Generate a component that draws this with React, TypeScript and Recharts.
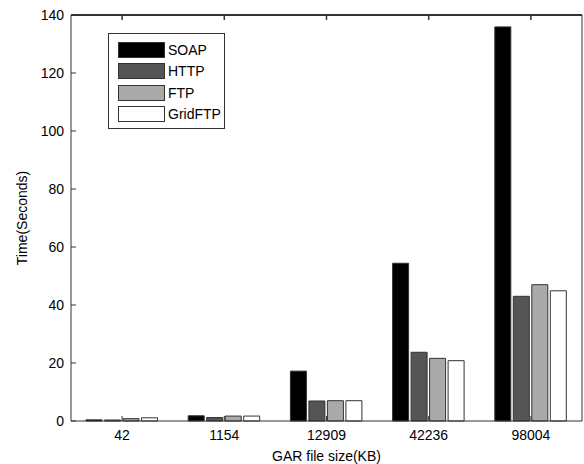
import React from 'react';
import { BarChart, Bar, XAxis, YAxis } from 'recharts';

const categories = ['42', '1154', '12909', '42236', '98004'];
const soap = [0.4, 1.8, 17.2, 54.4, 135.9];
const http = [0.35, 1.2, 6.9, 23.7, 43.0];
const ftp = [0.8, 1.7, 7.0, 21.6, 47.0];
const gridftp = [1.1, 1.7, 7.0, 20.8, 44.9];
const yTicks = [0, 20, 40, 60, 80, 100, 120, 140];
const yMax = 140;

const seriesNames = ['SOAP', 'HTTP', 'FTP', 'GridFTP'];
const seriesKeys = ['soap', 'http', 'ftp', 'gridftp'];
const seriesColors = ['#000000', '#555555', '#aaaaaa', '#ffffff'];

const data = categories.map((c, i) => ({
  name: c,
  soap: soap[i],
  http: http[i],
  ftp: ftp[i],
  gridftp: gridftp[i],
}));

const FONT = 'Arial, "Liberation Sans", sans-serif';
const AX = '#333333';

const LeftTick = (props: any) => {
  const { x, y, payload } = props;
  return (
    <g>
      <line x1={x} y1={y} x2={x + 5} y2={y} stroke={AX} strokeWidth={1} />
      <text x={x - 7} y={y + 5} textAnchor="end" fontSize={14} fontFamily={FONT} fill="#000">
        {payload.value}
      </text>
    </g>
  );
};

const RightTick = (props: any) => {
  const { x, y } = props;
  return <line x1={x} y1={y} x2={x - 5} y2={y} stroke={AX} strokeWidth={1} />;
};

const BottomTick = (props: any) => {
  const { x, y, payload } = props;
  return (
    <g>
      <line x1={x} y1={y} x2={x} y2={y - 5} stroke={AX} strokeWidth={1} />
      <text x={x} y={y + 19} textAnchor="middle" fontSize={14} fontFamily={FONT} fill="#000">
        {payload.value}
      </text>
    </g>
  );
};

const TopTick = (props: any) => {
  const { x, y } = props;
  return <line x1={x} y1={y} x2={x} y2={y + 5} stroke={AX} strokeWidth={1.5} />;
};

const LegendBox = () => (
  <div
    style={{
      position: 'absolute',
      left: 108,
      top: 33,
      border: '1px solid #333',
      background: '#fff',
      width: 117,
      height: 96,
      boxSizing: 'border-box',
      padding: '5px 0 0 9px',
      fontFamily: FONT,
      fontSize: 14,
    }}
  >
    {seriesNames.map((n, i) => (
      <div key={n} style={{ display: 'flex', alignItems: 'center', height: 21.5 }}>
        <div
          style={{
            width: 47,
            height: 16,
            background: seriesColors[i],
            border: '1px solid #333',
            boxSizing: 'border-box',
            marginRight: 3,
          }}
        />
        <span style={{ lineHeight: '16px' }}>{n}</span>
      </div>
    ))}
  </div>
);

export default function App() {
  return (
    <div style={{ position: 'absolute', left: 0, top: 0, width: 584, height: 464, background: '#fff' }}>
      <BarChart
        width={584}
        height={464}
        data={data}
        margin={{ top: 14, right: 0, bottom: 0, left: 0 }}
        barGap={2.5}
        barSize={16}
      >
        <XAxis
          xAxisId="b"
          dataKey="name"
          orientation="bottom"
          height={43}
          tickSize={0}
          tickMargin={0}
          axisLine={{ stroke: AX }}
          tickLine={false}
          tick={<BottomTick />}
          interval={0}
          label={(p: any) => {
            const vb = p.viewBox;
            return (
              <text
                x={vb.x + vb.width / 2}
                y={vb.y + 40}
                textAnchor="middle"
                fontSize={14}
                fontFamily={FONT}
                fill="#000"
              >
                GAR file size(KB)
              </text>
            );
          }}
        />
        <XAxis
          xAxisId="t"
          dataKey="name"
          orientation="top"
          height={1}
          tickSize={0}
          tickMargin={0}
          axisLine={{ stroke: AX, strokeWidth: 2 }}
          tickLine={false}
          tick={<TopTick />}
          interval={0}
        />
        <YAxis
          yAxisId="l"
          orientation="left"
          width={71}
          domain={[0, yMax]}
          ticks={yTicks}
          tickSize={0}
          tickMargin={0}
          axisLine={{ stroke: AX }}
          tickLine={false}
          tick={<LeftTick />}
          interval={0}
          label={(p: any) => {
            const vb = p.viewBox;
            const cx = vb.x + 22;
            const cy = vb.y + vb.height / 2;
            return (
              <text
                x={cx}
                y={cy}
                transform={`rotate(-90 ${cx} ${cy})`}
                textAnchor="middle"
                dominantBaseline="central"
                fontSize={14}
                fontFamily={FONT}
                fill="#000"
              >
                Time(Seconds)
              </text>
            );
          }}
        />
        <YAxis
          yAxisId="r"
          orientation="right"
          width={2}
          domain={[0, yMax]}
          ticks={yTicks}
          tickSize={0}
          tickMargin={0}
          axisLine={{ stroke: AX }}
          tickLine={false}
          tick={<RightTick />}
          interval={0}
        />
        {seriesKeys.map((k, i) => (
          <Bar
            key={k}
            dataKey={k}
            name={seriesNames[i]}
            xAxisId="b"
            yAxisId="l"
            fill={seriesColors[i]}
            stroke="#333333"
            strokeWidth={1}
            isAnimationActive={false}
          />
        ))}
      </BarChart>
      <LegendBox />
    </div>
  );
}
